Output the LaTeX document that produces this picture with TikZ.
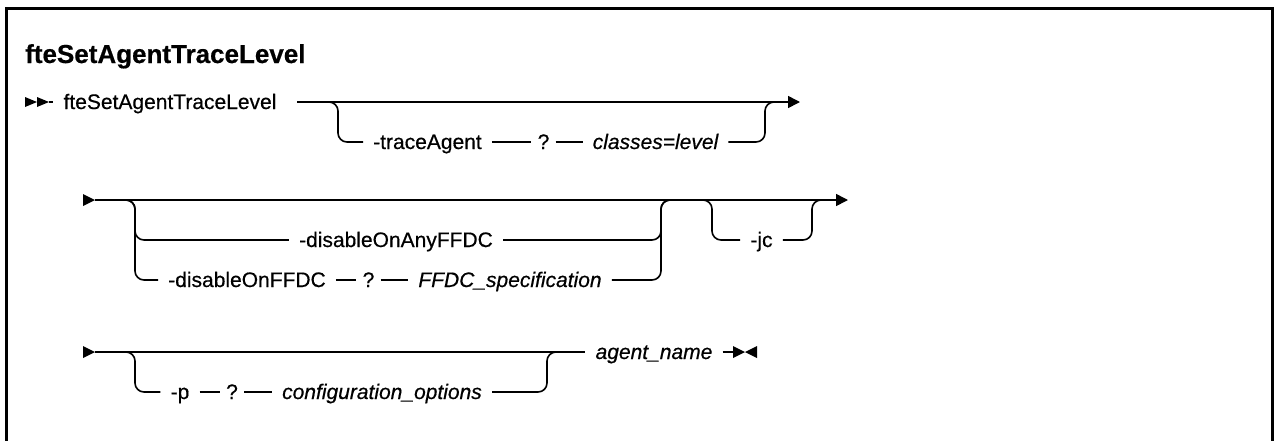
\documentclass[tikz,border=0pt]{standalone}
\usepackage{fontspec}
\setmainfont{Liberation Sans}[FakeBold=0.5,ItalicFeatures={FakeBold=0.5},BoldFeatures={FakeBold=0.5}]
\usetikzlibrary{arrows.meta}
\begin{document}
\begin{tikzpicture}[x=1pt,y=-1pt,
  rail/.style={line width=1.6pt, rounded corners=9pt},
  lbl/.style={font=\fontsize{21}{25}\selectfont, inner xsep=10pt, inner ysep=0pt, text height=14pt, text depth=0pt},
  var/.style={lbl, font=\fontsize{21}{25}\selectfont\itshape},
  qm/.style={lbl, inner xsep=6pt},
  endarrow/.style={-{Triangle[length=12pt,width=12pt]}},
  titlefont/.style={font=\fontsize{26}{30}\selectfont\bfseries, inner sep=0pt, anchor=base west}
]
\useasboundingbox (0,0) rectangle (1274,440);
\draw[line width=3pt] (6.5,450) -- (6.5,8.5) -- (1272.5,8.5) -- (1272.5,450);

\node[titlefont] (title) at (25,63) {fteSetAgentTraceLevel};

% ---------- row 1 ----------
\fill (25,97) -- (37,102) -- (25,107) -- cycle;
\fill (37,97) -- (49,102) -- (37,107) -- cycle;
\coordinate (s1) at (49,102);
\node[lbl] (cmd) at (170,102) {fteSetAgentTraceLevel};
\draw[rail] (s1) -- (cmd.west);
\coordinate (r1a) at (297,102);
\coordinate (r1z) at (800,102);
\coordinate (r1j) at (782,102);
\draw[rail, endarrow] (r1a) -- (r1z);
\node[lbl] (ta) at (427.5,142) {-traceAgent};
\node[qm] (q1) at (543.5,142) {?};
\node[var] (cl) at (655.5,142) {classes=level};
\draw[rail] (r1a) -- (338,102) -- (338,142) -- (ta.west);
\draw[rail] (ta.east) -- (q1.west);
\draw[rail] (q1.east) -- (cl.west);
\draw[rail] (cl.east) -| (765,102) -- (r1j);

% ---------- row 2 ----------
\fill (83,194) -- (95,200) -- (83,206) -- cycle;
\coordinate (r2a) at (95,200);
\coordinate (r2z) at (848,200);
\draw[rail, endarrow] (r2a) -- (r2z);
\node[lbl] (a1) at (396,240) {-disableOnAnyFFDC};
\node[lbl] (d1) at (247,280) {-disableOnFFDC};
\node[qm] (q2) at (368.5,280) {?};
\node[var] (ff) at (510,280) {FFDC\_specification};
\coordinate (r2j) at (682,200);
\draw[rail] (r2a) -- (135,200) -- (135,240) -- (a1.west);
\draw[rail] (r2a) -- (135,200) -- (135,280) -- (d1.west);
\draw[rail] (d1.east) -- (q2.west);
\draw[rail] (q2.east) -- (ff.west);
\draw[rail] (a1.east) -| (661,200) -- (r2j);
\draw[rail] (ff.east) -| (661,200) -- (r2j);
\coordinate (r2b) at (694,200);
\coordinate (r2k) at (832,200);
\node[lbl] (jc) at (761.5,240) {-jc};
\draw[rail] (r2b) -- (712,200) -- (712,240) -- (jc.west);
\draw[rail] (jc.east) -| (812,200) -- (r2k);

% ---------- row 3 ----------
\fill (83,346) -- (95,352) -- (83,358) -- cycle;
\coordinate (r3a) at (95,352);
\node[var] (an) at (654,352) {agent\_name};
\draw[rail] (r3a) -- (an.west);
\node[lbl] (p) at (180,392) {-p};
\node[qm] (q3) at (232,392) {?};
\node[var] (co) at (382,392) {configuration\_options};
\coordinate (r3j) at (566,352);
\draw[rail] (r3a) -- (135,352) -- (135,392) -- (p.west);
\draw[rail] (p.east) -- (q3.west);
\draw[rail] (q3.east) -- (co.west);
\draw[rail] (co.east) -| (547,352) -- (r3j);
\coordinate (e3) at (733,352);
\draw[rail] (an.east) -- (e3);
\fill (733,346) -- (745,352) -- (733,358) -- cycle;
\fill (757,346) -- (745,352) -- (757,358) -- cycle;
\end{tikzpicture}
\end{document}
